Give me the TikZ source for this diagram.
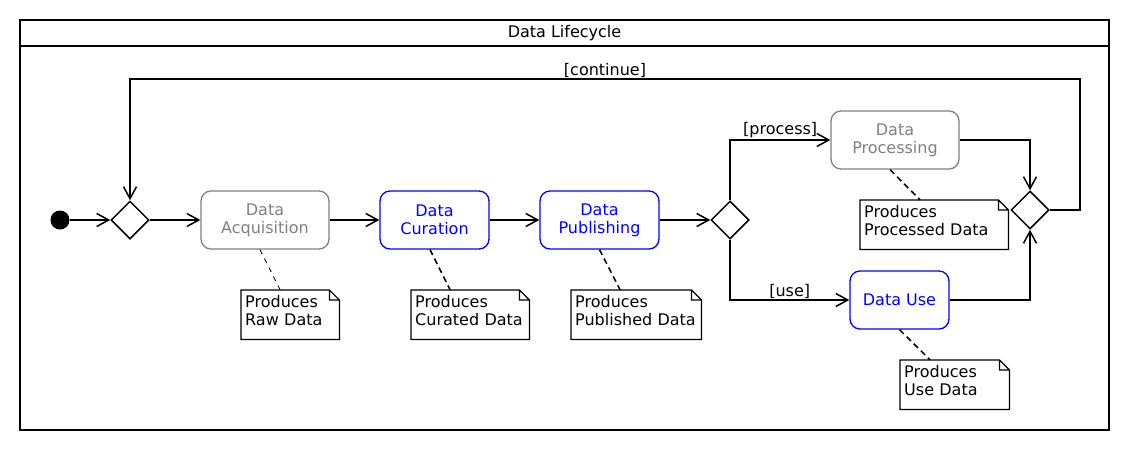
\documentclass[tikz,border=0pt]{standalone}
\usepackage{fontspec}
\setmainfont{DejaVu Sans}
\usepackage{tikz}
\usetikzlibrary{arrows.meta,shapes.geometric,positioning}
\definecolor{actgray}{RGB}{128,128,128}
\tikzset{
>={Straight Barb[length=12pt,width=13pt]},
  flow/.style={draw, line width=1.5pt, ->},
  activity/.style={
    rectangle,
    rounded corners=10pt,
    draw, line width=1.3pt,
    minimum height=58pt,
    align=center},
  greyact/.style={activity, draw=actgray, text=actgray},
  blueact/.style={activity, draw=blue, text=blue},
  decision/.style={
    diamond, draw, line width=1.5pt,
    minimum width=38pt, minimum height=38pt,
    inner sep=0pt},
  notebox/.style={
    anchor=north west,
    align=left,
    inner xsep=4pt, inner ysep=5pt,
    text depth=27pt},
  notelink/.style={draw, line width=1.5pt, dash pattern=on 6pt off 4pt},
  guard/.style={above, inner sep=1pt}
}
\begin{document}
\begin{tikzpicture}[x=1pt, y=-1pt, font=\fontsize{16}{18}\selectfont]
    \useasboundingbox (0,0) rectangle (1130,450);
    % frame
    \draw[line width=1.2pt] (20,20) rectangle (1109,430);
    \draw[line width=1.2pt] (20,46) -- (1109,46);
    \node (title) at (564.5,33) {Data Lifecycle};

    \node[circle, fill, inner sep=0pt, minimum size=19pt] (start) at (60,220) {};
    \node[decision] (merge) at (130,220) {};
    \node[greyact, minimum width=128pt] (acq) at (265,220) {Data\\Acquisition};
    \node[blueact, minimum width=109pt] (cur) at (434.5,220) {Data\\Curation};
    \node[blueact, minimum width=119pt] (pub) at (599.5,220) {Data\\Publishing};
    \node[decision] (branch) at (730,220) {};
    \node[greyact, minimum width=128pt] (proc) at (895,140) {Data\\Processing};
    \node[blueact, minimum width=99pt] (use) at (899.5,300) {Data Use};
    \node[decision] (join) at (1030,210) {};
    \coordinate (loopc) at (1080,79);

    % notes
    \node[notebox, text width=90pt] (rawnote) at (241,290) {Produces\\Raw Data};
    \node[notebox, text width=110pt] (curnote) at (411,290) {Produces\\Curated Data};
    \node[notebox, text width=122pt] (pubnote) at (571,290) {Produces\\Published Data};
    \node[notebox, text width=140pt] (procnote) at (860,200) {Produces\\Processed Data};
    \node[notebox, text width=101pt] (usenote) at (900,360) {Produces\\Use Data};
    \foreach \n in {rawnote,curnote,pubnote,procnote,usenote}
      \draw[line width=1.2pt] (\n.north west) -- ([xshift=-10pt]\n.north east)
         -- ([yshift=-10pt]\n.north east) -- (\n.south east) -- (\n.south west) -- cycle
         ([xshift=-10pt]\n.north east) |- ([yshift=-10pt]\n.north east);

    \draw[flow] (start) -- (merge);
    \draw[flow] (merge) -- (acq);
    \draw[flow] (acq) -- (cur);
    \draw[flow] (cur) -- (pub);
    \draw[flow] (pub) -- (branch);
    \draw[flow] (branch.north) |- node[guard, pos=0.75] {[process]} (proc.west);
    \draw[flow] (branch.south) |- node[guard, pos=0.75] {[use]} (use.west);
    \draw[flow] (proc.east) -| (join.north);
    \draw[flow] (use.east) -| (join.south);
    \draw[flow] (join.east) -| (loopc) -| node[guard, pos=0.25] {[continue]} (merge.north);

    \draw[notelink, line width=0.8pt, dash pattern=on 5pt off 5pt]
      ([xshift=-5pt]acq.south) -- ([xshift=-10pt]rawnote.north);
    \draw[notelink] ([xshift=-4.5pt]cur.south) -- ([xshift=-20pt]curnote.north);
    \draw[notelink] (pub.south) -- ([xshift=-16pt]pubnote.north);
    \draw[notelink] ([xshift=-5pt]proc.south) -- ([xshift=-14pt]procnote.north);
    \draw[notelink] (use.south) -- ([xshift=-24.5pt]usenote.north);
\end{tikzpicture}
\end{document}
